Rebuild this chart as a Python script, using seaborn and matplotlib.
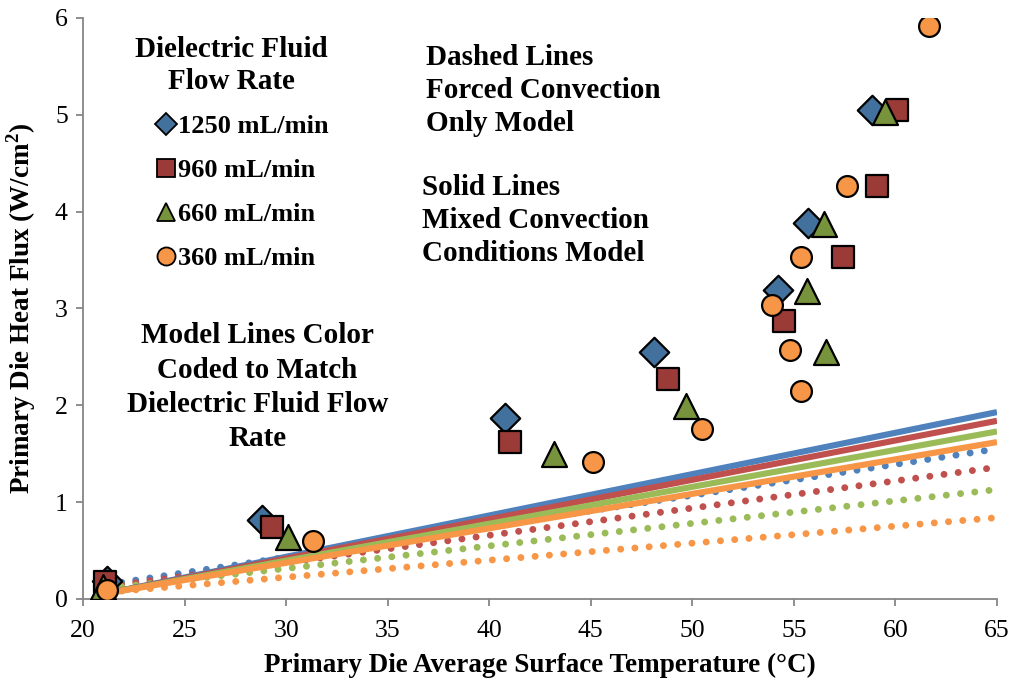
import matplotlib
matplotlib.use("Agg")
import matplotlib.pyplot as plt
from matplotlib.lines import Line2D
import numpy as np
import pandas as pd
import seaborn as sns

# Measured heat flux data (W/cm^2) vs. primary die surface temperature (°C)
t_1250 = [21.2, 28.8, 40.8, 48.1, 54.2, 55.7, 58.85]
q_1250 = [0.19, 0.82, 1.87, 2.55, 3.19, 3.88, 5.05]

t_960 = [21.1, 29.3, 41.0, 48.8, 54.5, 57.4, 59.1, 60.1]
q_960 = [0.18, 0.74, 1.62, 2.27, 2.87, 3.53, 4.26, 5.05]

t_660 = [21.0, 30.1, 43.2, 49.7, 55.65, 56.5, 56.6, 59.5]
q_660 = [0.12, 0.64, 1.50, 1.99, 3.18, 3.87, 2.55, 5.03]

t_360 = [21.2, 31.3, 45.1, 50.5, 53.9, 54.8, 55.35, 55.35, 57.6, 61.65]
q_360 = [0.09, 0.60, 1.41, 1.76, 3.04, 2.57, 2.15, 3.53, 4.26, 5.92]

# Model predictions, evaluated at the ends of the temperature range
t_model = [21.2, 65.0]
mixed_1250 = [0.06, 1.93]
mixed_960 = [0.06, 1.84]
mixed_660 = [0.06, 1.73]
mixed_360 = [0.06, 1.62]
forced_1250 = [0.15, 1.55]
forced_960 = [0.13, 1.36]
forced_660 = [0.11, 1.13]
forced_360 = [0.07, 0.84]

flow_labels = ["1250 mL/min", "960 mL/min", "660 mL/min", "360 mL/min"]

marker_fill = ["#41719C", "#9A3B38", "#77933C", "#F79646"]
line_color = ["#4F81BD", "#C0504D", "#9BBB59", "#F79646"]
marker_shape = ["D", "s", "^", "o"]
marker_size = [15, 16, 18, 15]

measured = [(t_1250, q_1250), (t_960, q_960), (t_660, q_660), (t_360, q_360)]
mixed = [mixed_1250, mixed_960, mixed_660, mixed_360]
forced = [forced_1250, forced_960, forced_660, forced_360]

serif = ["Liberation Serif", "DejaVu Serif"]

sns.set_theme(style="white")
plt.rcParams["font.family"] = serif
plt.rcParams["mathtext.fontset"] = "custom"
plt.rcParams["mathtext.rm"] = "Liberation Serif"
plt.rcParams["mathtext.bf"] = "Liberation Serif:bold"
for key in ["text.color", "axes.labelcolor", "xtick.labelcolor", "ytick.labelcolor"]:
    plt.rcParams[key] = "black"

fig = plt.figure(figsize=(10.14, 6.84), dpi=100)
ax = fig.add_axes([0.0819, 0.1243, 0.9013, 0.8494])

# Forced convection only model (dotted)
for i in range(4):
    df = pd.DataFrame({"T": t_model, "q": forced[i]})
    sns.lineplot(data=df, x="T", y="q", ax=ax, color=line_color[i], zorder=2)
    ln = ax.lines[-1]
    ln.set_linewidth(5.0)
    ln.set_dashes((0.01, 2.05))
    ln.set_dash_capstyle("round")

# Mixed convection model (solid)
for i in range(4):
    df = pd.DataFrame({"T": t_model, "q": mixed[i]})
    sns.lineplot(data=df, x="T", y="q", ax=ax, color=line_color[i], zorder=3)
    ln = ax.lines[-1]
    ln.set_linewidth(4.4)
    ln.set_solid_capstyle("butt")

# Measured points
for i, (t, q) in enumerate(measured):
    df = pd.DataFrame({"T": t, "q": q})
    sns.scatterplot(data=df, x="T", y="q", ax=ax, marker=marker_shape[i],
                    s=marker_size[i] ** 2, color=marker_fill[i],
                    edgecolor="black", linewidth=1.6, zorder=4 + i)

ax.set_xlim(20, 65)
ax.set_ylim(0, 6)
ax.set_xticks(np.arange(20, 66, 5))
ax.set_yticks(np.arange(0, 7, 1))
ax.set_xticklabels([str(v) for v in range(20, 66, 5)])
ax.set_yticklabels([str(v) for v in range(0, 7)])

for side in ["top", "right"]:
    ax.spines[side].set_visible(False)
for side in ["left", "bottom"]:
    ax.spines[side].set_color("#868686")
    ax.spines[side].set_linewidth(1.3)
ax.tick_params(axis="both", which="major", direction="out", length=5,
               width=1.3, color="#868686", labelcolor="black", labelsize=18.5,
               left=True, bottom=True)
ax.tick_params(axis="x", pad=10)
ax.tick_params(axis="y", pad=6)
for lbl in ax.get_xticklabels() + ax.get_yticklabels():
    lbl.set_fontfamily(serif)
    lbl.set_fontweight("normal")

ax.set_xlabel("Primary Die Average Surface Temperature (°C)",
              fontsize=19.5, fontweight="bold", labelpad=8, family=serif)
ax.set_ylabel(r"Primary Die Heat Flux (W/cm$^\mathbf{2}$)",
              fontsize=19.5, fontweight="bold", family=serif)
ax.yaxis.set_label_coords(-0.049, 0.5)

# Legend: title as its own text block, entries below it
ax.text(0.162, 0.969, "Dielectric Fluid\nFlow Rate", transform=ax.transAxes,
        ha="center", va="top", fontsize=21, fontweight="bold",
        linespacing=1.25, multialignment="center", family=serif)
handles = [Line2D([], [], linestyle="none", marker=marker_shape[i],
                  markersize=[11, 13, 13, 13][i], markerfacecolor=marker_fill[i],
                  markeredgecolor="black", markeredgewidth=1.3)
           for i in range(4)]
ax.legend(handles, flow_labels, loc="upper left",
          bbox_to_anchor=(0.081, 0.833), frameon=False,
          prop={"size": 19, "weight": "bold", "family": serif},
          handlelength=0.7, handletextpad=0.1, labelspacing=0.77,
          borderaxespad=0, borderpad=0)

note_kw = dict(transform=ax.transAxes, va="top", fontsize=21,
               fontweight="bold", linespacing=1.3, family=serif)
ax.text(0.375, 0.956, "Dashed Lines\nForced Convection\nOnly Model",
        ha="left", **note_kw)
ax.text(0.371, 0.732, "Solid Lines\nMixed Convection\nConditions Model",
        ha="left", **note_kw)
note_kw["linespacing"] = 1.34
ax.text(0.191, 0.476, "Model Lines Color\nCoded to Match\nDielectric Fluid Flow\nRate",
        ha="center", multialignment="center", **note_kw)

fig.savefig("out.png", dpi=100)
